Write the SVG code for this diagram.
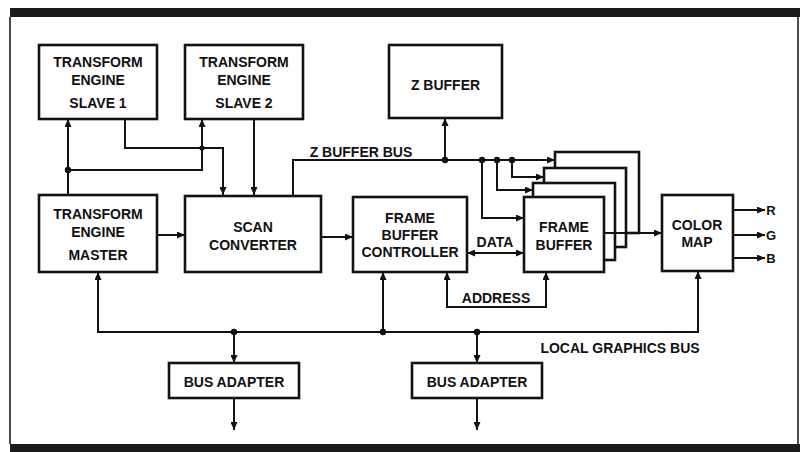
<svg xmlns="http://www.w3.org/2000/svg" width="807" height="452" viewBox="0 0 807 452">
<style>
.box{fill:#fff;stroke:#111;stroke-width:2.6}
.ln{fill:none;stroke:#111;stroke-width:2}
.t{font-family:"Liberation Sans",Arial,sans-serif;font-weight:bold;font-size:14px;fill:#111;text-anchor:middle}
.s{font-size:13px}
.dot{fill:#111}
</style>
<defs>
<marker id="a" viewBox="0 0 8 7" refX="8" refY="3.5" markerWidth="8" markerHeight="7" markerUnits="userSpaceOnUse" orient="auto-start-reverse">
<path d="M0,0 L8,3.5 L0,7 z" fill="#111"/>
</marker>
</defs>
<rect x="0" y="0" width="807" height="452" fill="#fff"/>
<g id="frame">
<rect x="10" y="8" width="790" height="9" fill="#1a1a1a"/>
<rect x="10" y="444" width="790" height="8" fill="#1a1a1a"/>
<line x1="10" y1="17" x2="10" y2="444" stroke="#111" stroke-width="1.5"/>
<line x1="798" y1="17" x2="798" y2="444" stroke="#111" stroke-width="1.5"/>
</g>
<g id="connectors">
<path class="ln" d="M68,195 V119" marker-end="url(#a)"/>
<path class="ln" d="M68,170 H202 V119" marker-end="url(#a)"/>
<path class="ln" d="M125,119 V148 H223 V195" marker-end="url(#a)"/>
<path class="ln" d="M254,119 V195" marker-end="url(#a)"/>
<path class="ln" d="M293,195 V160 H555" marker-end="url(#a)"/>
<path class="ln" d="M445,160 V118" marker-end="url(#a)"/>
<path class="ln" d="M512,160 V177 H544" marker-end="url(#a)"/>
<path class="ln" d="M497,160 V190 H533" marker-end="url(#a)"/>
<path class="ln" d="M482,160 V218 H524" marker-end="url(#a)"/>
<path class="ln" d="M157,235 H185" marker-end="url(#a)"/>
<path class="ln" d="M321,237 H353" marker-end="url(#a)"/>
<path class="ln" d="M467,253 H524" marker-start="url(#a)" marker-end="url(#a)"/>
<path class="ln" d="M447,272 V307 H546 V272" marker-start="url(#a)" marker-end="url(#a)"/>
<path class="ln" d="M604,233 H662" marker-end="url(#a)"/>
<path class="ln" d="M733,210 H765" marker-end="url(#a)"/>
<path class="ln" d="M733,235 H765" marker-end="url(#a)"/>
<path class="ln" d="M733,258 H765" marker-end="url(#a)"/>
<path class="ln" d="M98,272 V332 H698 V271" marker-start="url(#a)" marker-end="url(#a)"/>
<path class="ln" d="M383,332 V272" marker-end="url(#a)"/>
<path class="ln" d="M234,332 V363" marker-end="url(#a)"/>
<path class="ln" d="M477,332 V363" marker-end="url(#a)"/>
<path class="ln" d="M234,398 V430" marker-end="url(#a)"/>
<path class="ln" d="M477,398 V430" marker-end="url(#a)"/>
<circle class="dot" cx="68" cy="170" r="3.2"/>
<circle class="dot" cx="202" cy="148" r="2.6"/>
<circle class="dot" cx="445" cy="160" r="3.2"/>
<circle class="dot" cx="482" cy="160" r="3.2"/>
<circle class="dot" cx="497" cy="160" r="3.2"/>
<circle class="dot" cx="512" cy="160" r="3.2"/>
<circle class="dot" cx="234" cy="332" r="3.2"/>
<circle class="dot" cx="383" cy="332" r="3.2"/>
<circle class="dot" cx="477" cy="332" r="3.2"/>
</g>
<g id="labels">
<text class="t" x="361" y="157">Z BUFFER BUS</text>
<text class="t" x="495" y="247">DATA</text>
<text class="t" x="496" y="303">ADDRESS</text>
<text class="t" x="620" y="353">LOCAL GRAPHICS BUS</text>
<text class="t s" x="771" y="215">R</text>
<text class="t s" x="771" y="240">G</text>
<text class="t s" x="771" y="263">B</text>
</g>
<g id="slave1">
<rect class="box" x="39" y="45" width="118" height="74"/>
<text class="t" x="98" y="67">TRANSFORM</text>
<text class="t" x="98" y="85">ENGINE</text>
<text class="t" x="98" y="108">SLAVE 1</text>
</g>
<g id="slave2">
<rect class="box" x="185" y="45" width="118" height="74"/>
<text class="t" x="244" y="67">TRANSFORM</text>
<text class="t" x="244" y="85">ENGINE</text>
<text class="t" x="244" y="108">SLAVE 2</text>
</g>
<g id="zbuffer">
<rect class="box" x="389" y="45" width="113" height="73"/>
<text class="t" x="445.5" y="90">Z BUFFER</text>
</g>
<g id="master">
<rect class="box" x="39" y="195" width="118" height="77"/>
<text class="t" x="98" y="219">TRANSFORM</text>
<text class="t" x="98" y="237">ENGINE</text>
<text class="t" x="98" y="260">MASTER</text>
</g>
<g id="scanconverter">
<rect class="box" x="185" y="196" width="136" height="76"/>
<text class="t" x="253" y="232">SCAN</text>
<text class="t" x="253" y="250">CONVERTER</text>
</g>
<g id="fbcontroller">
<rect class="box" x="353" y="197" width="114" height="75"/>
<text class="t" x="410" y="223">FRAME</text>
<text class="t" x="410" y="240">BUFFER</text>
<text class="t" x="410" y="257">CONTROLLER</text>
</g>
<g id="framebuffer">
<rect class="box" x="555" y="152" width="84" height="81"/>
<rect class="box" x="544" y="168" width="82" height="79"/>
<rect class="box" x="533" y="183" width="82" height="77"/>
<rect class="box" x="524" y="197" width="80" height="75"/>
<path class="ln" d="M604,233 H640"/>
<text class="t" x="564" y="232">FRAME</text>
<text class="t" x="564" y="250">BUFFER</text>
</g>
<g id="colormap">
<rect class="box" x="662" y="195" width="71" height="76"/>
<text class="t" x="697" y="230">COLOR</text>
<text class="t" x="697" y="247">MAP</text>
</g>
<g id="busadapter1">
<rect class="box" x="169" y="363" width="130" height="35"/>
<text class="t" x="234" y="387">BUS ADAPTER</text>
</g>
<g id="busadapter2">
<rect class="box" x="412" y="363" width="130" height="35"/>
<text class="t" x="477" y="387">BUS ADAPTER</text>
</g>
</svg>
